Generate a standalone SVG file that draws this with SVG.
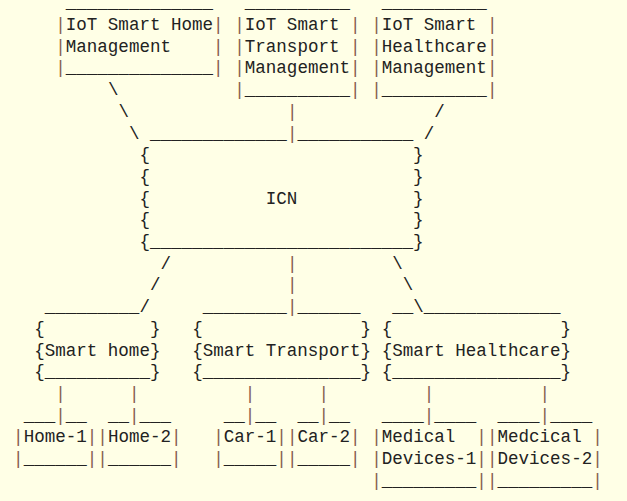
<svg xmlns="http://www.w3.org/2000/svg" width="627" height="501" viewBox="0 0 627 501" xml:space="preserve">
<style>
text { font-family: "Liberation Mono", "DejaVu Sans Mono", monospace; font-size: 17.55px; fill: #222222; white-space: pre; }
.p { fill: #86604e; }
</style>
<rect x="0" y="0" width="627" height="501" fill="#FFFFE6"/>
<g id="mgmt-home">
<text x="65.77" y="8.3">______________</text>
<text x="55.24" y="30.0"><tspan class="p">|</tspan>IoT Smart Home<tspan class="p">|</tspan></text>
<text x="55.24" y="51.7"><tspan class="p">|</tspan>Management    <tspan class="p">|</tspan></text>
<text x="55.24" y="73.4"><tspan class="p">|</tspan>______________<tspan class="p">|</tspan></text>
</g>
<g id="mgmt-transport">
<text x="244.78" y="8.3">__________</text>
<text x="234.25" y="30.0"><tspan class="p">|</tspan>IoT Smart <tspan class="p">|</tspan></text>
<text x="234.25" y="51.7"><tspan class="p">|</tspan>Transport <tspan class="p">|</tspan></text>
<text x="234.25" y="73.4"><tspan class="p">|</tspan>Management<tspan class="p">|</tspan></text>
<text x="234.25" y="95.1"><tspan class="p">|</tspan>__________<tspan class="p">|</tspan></text>
</g>
<g id="mgmt-health">
<text x="381.67" y="8.3">__________</text>
<text x="371.14" y="30.0"><tspan class="p">|</tspan>IoT Smart <tspan class="p">|</tspan></text>
<text x="371.14" y="51.7"><tspan class="p">|</tspan>Healthcare<tspan class="p">|</tspan></text>
<text x="371.14" y="73.4"><tspan class="p">|</tspan>Management<tspan class="p">|</tspan></text>
<text x="371.14" y="95.1"><tspan class="p">|</tspan>__________<tspan class="p">|</tspan></text>
</g>
<g id="icn">
<text x="150.01" y="138.5">_____________</text>
<text x="297.43" y="138.5">___________</text>
<text x="139.48" y="160.2">{                         }</text>
<text x="139.48" y="181.9">{                         }</text>
<text x="139.48" y="203.6">{           ICN           }</text>
<text x="139.48" y="225.3">{                         }</text>
<text x="139.48" y="247.0">{_________________________}</text>
</g>
<g id="smart-home">
<text x="44.71" y="312.1">_________</text>
<text x="34.18" y="333.8">{          }</text>
<text x="34.18" y="355.5">{Smart home}</text>
<text x="34.18" y="377.2">{__________}</text>
</g>
<g id="smart-transport">
<text x="202.66" y="312.1">________</text>
<text x="297.43" y="312.1">______</text>
<text x="192.13" y="333.8">{               }</text>
<text x="192.13" y="355.5">{Smart Transport}</text>
<text x="192.13" y="377.2">{_______________}</text>
</g>
<g id="smart-healthcare">
<text x="392.20" y="312.1">__</text>
<text x="423.79" y="312.1">_____________</text>
<text x="381.67" y="333.8">{                }</text>
<text x="381.67" y="355.5">{Smart Healthcare}</text>
<text x="381.67" y="377.2">{________________}</text>
</g>
<g id="home-1">
<text x="23.65" y="420.6">___</text>
<text x="65.77" y="420.6">__</text>
<text x="13.12" y="442.3"><tspan class="p">|</tspan>Home-1<tspan class="p">|</tspan></text>
<text x="13.12" y="464.0"><tspan class="p">|</tspan>______<tspan class="p">|</tspan></text>
</g>
<g id="home-2">
<text x="107.89" y="420.6">__</text>
<text x="139.48" y="420.6">___</text>
<text x="97.36" y="442.3"><tspan class="p">|</tspan>Home-2<tspan class="p">|</tspan></text>
<text x="97.36" y="464.0"><tspan class="p">|</tspan>______<tspan class="p">|</tspan></text>
</g>
<g id="car-1">
<text x="223.72" y="420.6">__</text>
<text x="255.31" y="420.6">__</text>
<text x="213.19" y="442.3"><tspan class="p">|</tspan>Car-1<tspan class="p">|</tspan></text>
<text x="213.19" y="464.0"><tspan class="p">|</tspan>_____<tspan class="p">|</tspan></text>
</g>
<g id="car-2">
<text x="297.43" y="420.6">__</text>
<text x="329.02" y="420.6">__</text>
<text x="286.90" y="442.3"><tspan class="p">|</tspan>Car-2<tspan class="p">|</tspan></text>
<text x="286.90" y="464.0"><tspan class="p">|</tspan>_____<tspan class="p">|</tspan></text>
</g>
<g id="medical-devices-1">
<text x="381.67" y="420.6">____</text>
<text x="434.32" y="420.6">____</text>
<text x="371.14" y="442.3"><tspan class="p">|</tspan>Medical  <tspan class="p">|</tspan></text>
<text x="371.14" y="464.0"><tspan class="p">|</tspan>Devices-1<tspan class="p">|</tspan></text>
<text x="371.14" y="485.7"><tspan class="p">|</tspan>_________<tspan class="p">|</tspan></text>
</g>
<g id="medical-devices-2">
<text x="497.50" y="420.6">____</text>
<text x="550.15" y="420.6">____</text>
<text x="486.97" y="442.3"><tspan class="p">|</tspan>Medcical <tspan class="p">|</tspan></text>
<text x="486.97" y="464.0"><tspan class="p">|</tspan>Devices-2<tspan class="p">|</tspan></text>
<text x="486.97" y="485.7"><tspan class="p">|</tspan>_________<tspan class="p">|</tspan></text>
</g>
<g id="connectors">
<text x="107.89" y="95.1">\</text>
<text x="118.42" y="116.8">\</text>
<text x="128.95" y="138.5">\</text>
<text x="286.90" y="116.8" class="p">|</text>
<text x="286.90" y="138.5" class="p">|</text>
<text x="434.32" y="116.8">/</text>
<text x="423.79" y="138.5">/</text>
<text x="160.54" y="268.7">/</text>
<text x="150.01" y="290.4">/</text>
<text x="139.48" y="312.1">/</text>
<text x="286.90" y="268.7" class="p">|</text>
<text x="286.90" y="290.4" class="p">|</text>
<text x="286.90" y="312.1" class="p">|</text>
<text x="392.20" y="268.7">\</text>
<text x="402.73" y="290.4">\</text>
<text x="413.26" y="312.1">\</text>
<text x="55.24" y="398.9" class="p">|</text>
<text x="55.24" y="420.6" class="p">|</text>
<text x="128.95" y="398.9" class="p">|</text>
<text x="128.95" y="420.6" class="p">|</text>
<text x="244.78" y="398.9" class="p">|</text>
<text x="244.78" y="420.6" class="p">|</text>
<text x="318.49" y="398.9" class="p">|</text>
<text x="318.49" y="420.6" class="p">|</text>
<text x="423.79" y="398.9" class="p">|</text>
<text x="423.79" y="420.6" class="p">|</text>
<text x="539.62" y="398.9" class="p">|</text>
<text x="539.62" y="420.6" class="p">|</text>
</g>
</svg>
